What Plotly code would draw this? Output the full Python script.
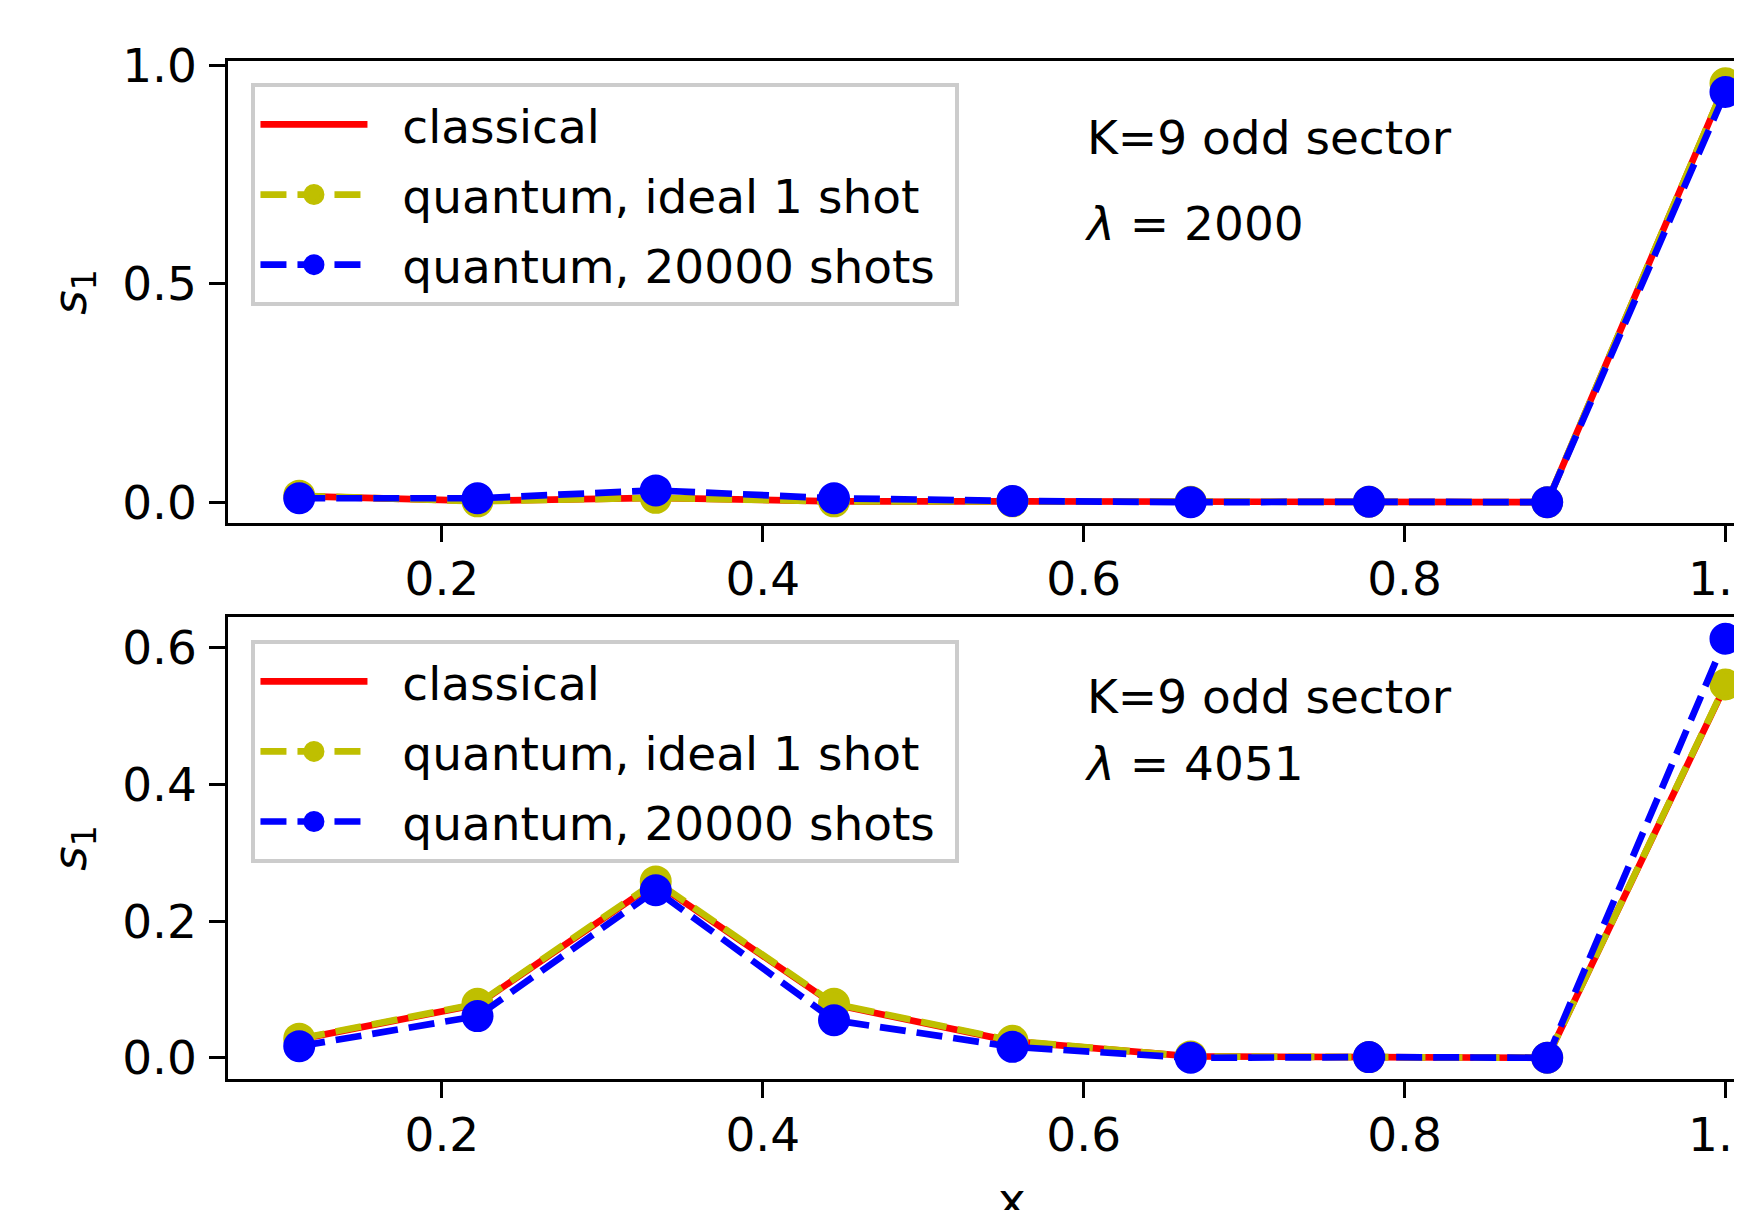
import plotly.graph_objects as go

# ---- data ----
x_vals = [0.1111, 0.2222, 0.3333, 0.4444, 0.5556, 0.6667, 0.7778, 0.8889, 1.0]

classical_2000 = [0.014, 0.003, 0.010, 0.002, 0.002, 0.001, 0.001, 0.000, 0.958]
ideal_2000 = [0.015, 0.002, 0.010, 0.002, 0.002, 0.001, 0.001, 0.000, 0.959]
shots_2000 = [0.009, 0.009, 0.027, 0.009, 0.003, 0.000, 0.001, 0.000, 0.939]

classical_4051 = [0.027, 0.078, 0.256, 0.078, 0.024, 0.002, 0.001, 0.000, 0.545]
ideal_4051 = [0.028, 0.079, 0.258, 0.079, 0.025, 0.002, 0.001, 0.000, 0.546]
shots_4051 = [0.017, 0.061, 0.245, 0.055, 0.016, 0.000, 0.001, 0.000, 0.613]

series_names = ["classical", "quantum, ideal 1 shot", "quantum, 20000 shots"]
x_ticks = [0.2, 0.4, 0.6, 0.8, 1.0]
y_ticks_top = [0.0, 0.5, 1.0]
y_ticks_bottom = [0.0, 0.2, 0.4, 0.6]
lambda_labels = ["2000", "4051"]

# ---- style ----
FONT = "DejaVu Sans"
FS = 47
LW = 6.7
MS = 27       # marker body; plus edge width gives ~32 px total
MLW = 5
DASH = "26px,11px"
RED, YEL, BLUE = "#ff0000", "#bfbf00", "#0000ff"
PAD = "\u00a0\u00a0"
TAIL = "\u00a0"

fig = go.Figure()

panels = [
    ("x", "y", "legend", [classical_2000, ideal_2000, shots_2000]),
    ("x2", "y2", "legend2", [classical_4051, ideal_4051, shots_4051]),
]
for xa, ya, lg, (cl, idl, sh) in panels:
    fig.add_trace(go.Scatter(x=x_vals, y=cl, mode="lines", name=PAD + series_names[0] + TAIL,
                             line=dict(color=RED, width=LW), xaxis=xa, yaxis=ya,
                             legend=lg, legendgroup=lg + "a"))
    fig.add_trace(go.Scatter(x=x_vals, y=idl, mode="lines+markers", name=PAD + series_names[1] + TAIL,
                             line=dict(color=YEL, width=LW, dash=DASH),
                             marker=dict(color=YEL, size=MS, line=dict(color=YEL, width=MLW)),
                             xaxis=xa, yaxis=ya, legend=lg, legendgroup=lg + "b"))
    fig.add_trace(go.Scatter(x=x_vals, y=sh, mode="lines+markers", name=PAD + series_names[2] + TAIL,
                             line=dict(color=BLUE, width=LW, dash=DASH),
                             marker=dict(color=BLUE, size=MS, line=dict(color=BLUE, width=MLW)),
                             xaxis=xa, yaxis=ya, legend=lg, legendgroup=lg + "c"))

axis_common = dict(showline=True, linecolor="black", linewidth=3.4, ticks="outside",
                   ticklen=15.5, tickwidth=3.4, tickcolor="black", showgrid=False,
                   zeroline=False, tickfont=dict(family=FONT, size=FS, color="black"),
                   tickformat=".1f", automargin=False, ticklabeloverflow="allow")

ytitle = dict(text="<i>s</i><sub>1</sub>", font=dict(family=FONT, size=FS), standoff=21)
x_range = [0.0667, 1.0103]
legend_common = dict(xanchor="left", yanchor="top", bgcolor="rgba(255,255,255,0.8)",
                     bordercolor="#cccccc", borderwidth=4, font=dict(family=FONT, size=FS),
                     itemwidth=107, tracegroupgap=6, traceorder="grouped")
# the page body has an 8 px margin, so the figure is sized/offset to compensate
fig.update_layout(
    width=1734, height=1202,
    margin=dict(l=220, r=0, t=53, b=131),
    paper_bgcolor="white", plot_bgcolor="white",
    font=dict(family=FONT, size=FS, color="black"),
    xaxis=dict(axis_common, domain=[0, 1], range=x_range, tickvals=x_ticks,
               anchor="y", mirror=True, ticklabelstandoff=-3),
    yaxis=dict(axis_common, domain=[0.546, 1.0], range=[-0.048, 1.010], tickvals=y_ticks_top,
               anchor="x", ticklabelstandoff=3, title=ytitle),
    xaxis2=dict(axis_common, domain=[0, 1], range=x_range, tickvals=x_ticks,
                anchor="y2", mirror=True, ticklabelstandoff=-3),
    yaxis2=dict(axis_common, domain=[0.0, 0.454], range=[-0.031, 0.645], tickvals=y_ticks_bottom,
                anchor="x2", ticklabelstandoff=3, title=ytitle),
    legend=dict(legend_common, x=0.0155, y=0.978),
    legend2=dict(legend_common, x=0.0155, y=0.431),
)

ann_font = dict(family=FONT, size=FS, color="black")
annotations = [
    dict(text="K=9 odd sector", x=0.566, y=0.9245, xref="paper", yref="paper",
         xanchor="left", yanchor="middle", showarrow=False, font=ann_font),
    dict(text="<i>λ</i> = " + lambda_labels[0], x=0.564, y=0.840, xref="paper", yref="paper",
         xanchor="left", yanchor="middle", showarrow=False, font=ann_font),
    dict(text="K=9 odd sector", x=0.566, y=0.3755, xref="paper", yref="paper",
         xanchor="left", yanchor="middle", showarrow=False, font=ann_font),
    dict(text="<i>λ</i> = " + lambda_labels[1], x=0.564, y=0.3098, xref="paper", yref="paper",
         xanchor="left", yanchor="middle", showarrow=False, font=ann_font),
    dict(text="x", x=0.5556, y=-0.089, xref="x2", yref="paper",
         xanchor="center", yanchor="top", showarrow=False, font=ann_font),
]
fig.update_layout(annotations=annotations)

fig.write_html("out.html")
